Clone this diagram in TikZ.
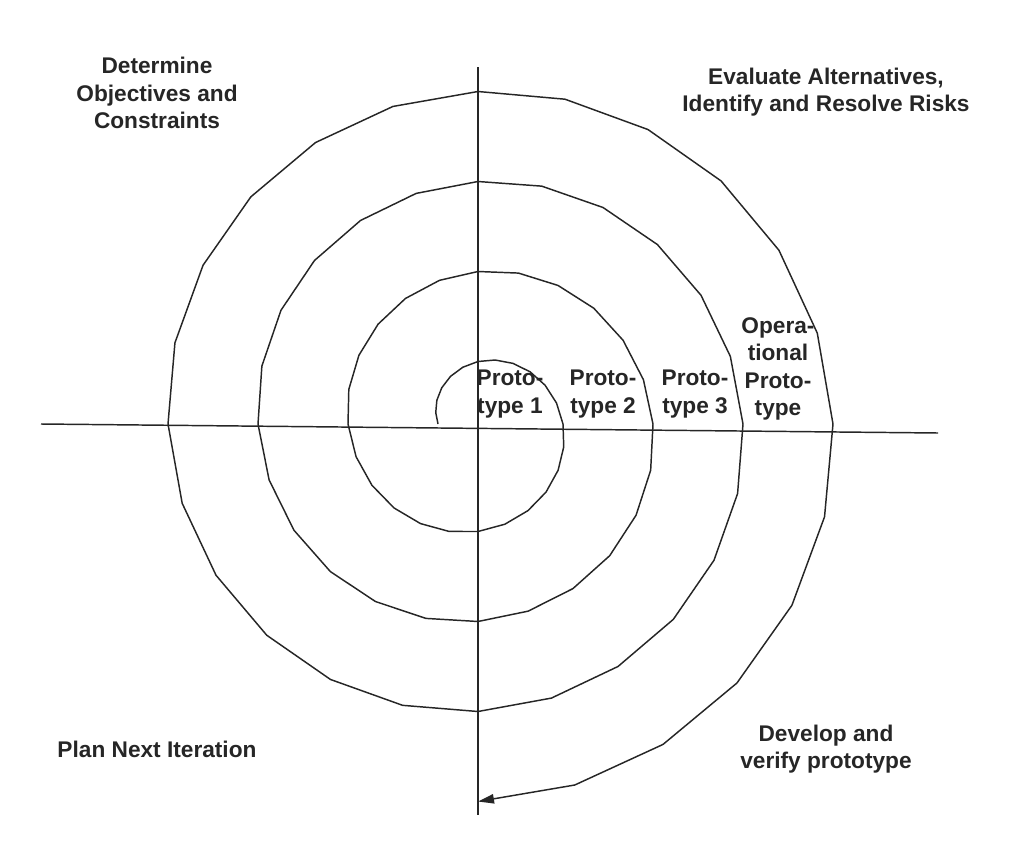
\documentclass[tikz,border=0pt]{standalone}
\usepackage{fontspec}
\setmainfont{Liberation Sans}
\usepackage{tikz}
\usetikzlibrary{arrows.meta,positioning}

\begin{document}
\begin{tikzpicture}[
    x=0.75pt, y=-0.75pt,
    axis/.style={line width=1.1pt, black!85},
    spiral/.style={line width=1.1pt, black!85, line join=round, -{Triangle[length=12pt, width=7pt]}},
    lab/.style={align=center, inner sep=0pt, font=\fontsize{17}{20.5}\selectfont\bfseries, text=black!85}
  ]
    \useasboundingbox (0,0) rectangle (1036,860);

    \coordinate (west)  at (41,424);
    \coordinate (east)  at (938,433);
    \coordinate (north) at (478,67);
    \coordinate (south) at (478,815);

    \draw[axis] (west) -- (east);
    \draw[axis] (north) -- (south);

    \draw[spiral] plot[domain=-90:1260, samples=91]
      ({478 + (40 + 0.25*(\x + 90))*sin(\x)}, {424 - (40 + 0.25*(\x + 90))*cos(\x)});

    \node[lab] (objectives) at (157,93)  {Determine\\Objectives and\\Constraints};
    \node[lab] (risks)      at (826,92)  {Evaluate Alternatives,\\Identify and Resolve Risks};
    \node[lab] (plan)       at (157,749) {Plan Next Iteration};
    \node[lab] (develop)    at (826,749) {Develop and\\verify prototype};

    \node[lab] (proto1) at (510,394) {Proto-\\type 1};
    \node[lab] (proto2) at (603,394) {Proto-\\type 2};
    \node[lab] (proto3) at (695,394) {Proto-\\type 3};
    \node[lab] (protoop) at (778,369) {Opera-\\tional\\Proto-\\type};
  \end{tikzpicture}
\end{document}
